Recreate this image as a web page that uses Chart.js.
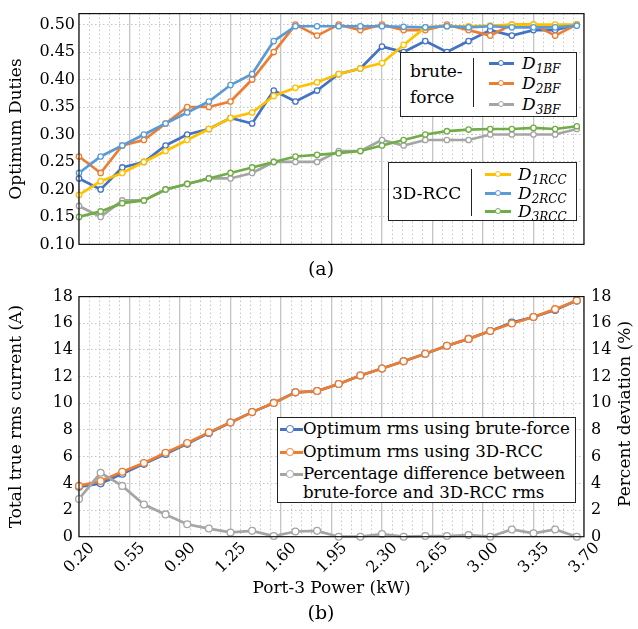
<!DOCTYPE html>
<html>
<head>
<meta charset="utf-8">
<script src="https://cdn.jsdelivr.net/npm/chart.js@4.4.0/dist/chart.umd.min.js"></script>
<style>
body{margin:0;background:#fff;width:638px;height:629px;position:relative;overflow:hidden;font-family:"DejaVu Serif",serif;color:#000;}
canvas{position:absolute;left:0;}
#c1{top:0;}
#c2{top:280px;}
.cap{position:absolute;left:0;width:638px;text-align:center;font-size:19px;line-height:24px;padding-left:4px;box-sizing:border-box;}
.lg{position:absolute;border:1px solid #222;background:#fff;box-sizing:border-box;}
.lg span{position:absolute;white-space:nowrap;line-height:20px;}
.vl{position:absolute;width:1px;background:#222;}
.smp{position:absolute;height:3px;margin-top:-1.5px;}
.dot{position:absolute;top:50%;border-radius:50%;background:#fff;box-sizing:border-box;}
.m{font-style:italic;font-size:17px;}
.m sub{font-size:12px;font-style:italic;vertical-align:-4px;line-height:0;}
#rt{position:absolute;left:624px;top:414px;transform:translate(-50%,-50%) rotate(-90deg);white-space:nowrap;font-size:17px;}
</style>
</head>
<body>
<canvas id="c1" width="638" height="258"></canvas>
<canvas id="c2" width="638" height="322"></canvas>
<div class="cap" style="top:256px">(a)</div>
<div class="cap" style="top:600px">(b)</div>
<div id="rt">Percent deviation (%)</div>
<div id="legends"></div>
<script>
// port-3 power, kW
const power = [0.20, 0.35, 0.50, 0.65, 0.80, 0.95, 1.10, 1.25, 1.40, 1.55, 1.70, 1.85,
               2.00, 2.15, 2.30, 2.45, 2.60, 2.75, 2.90, 3.05, 3.20, 3.35, 3.50, 3.65];

// (a) optimum duties
const d1bf  = [0.22, 0.20, 0.24, 0.25, 0.28, 0.30, 0.31, 0.33, 0.32, 0.38, 0.36, 0.38,
               0.41, 0.42, 0.46, 0.45, 0.47, 0.45, 0.47, 0.49, 0.48, 0.49, 0.49, 0.50];
const d2bf  = [0.26, 0.23, 0.28, 0.29, 0.32, 0.35, 0.35, 0.36, 0.40, 0.45, 0.50, 0.48,
               0.50, 0.49, 0.50, 0.49, 0.49, 0.50, 0.49, 0.48, 0.50, 0.50, 0.48, 0.50];
const d3bf  = [0.17, 0.15, 0.18, 0.18, 0.20, 0.21, 0.22, 0.22, 0.23, 0.25, 0.25, 0.25,
               0.27, 0.27, 0.29, 0.28, 0.29, 0.29, 0.29, 0.30, 0.30, 0.30, 0.30, 0.31];
const d1rcc = [0.19, 0.215, 0.23, 0.25, 0.27, 0.29, 0.31, 0.33, 0.34, 0.37, 0.385, 0.395,
               0.41, 0.42, 0.43, 0.463, 0.495, 0.497, 0.497, 0.498, 0.50, 0.50, 0.50, 0.50];
const d2rcc = [0.23, 0.26, 0.28, 0.30, 0.32, 0.34, 0.36, 0.39, 0.41, 0.47, 0.497, 0.497,
               0.497, 0.497, 0.497, 0.496, 0.495, 0.497, 0.495, 0.497, 0.495, 0.495, 0.495, 0.498];
const d3rcc = [0.15, 0.16, 0.175, 0.18, 0.20, 0.21, 0.22, 0.23, 0.24, 0.25, 0.26, 0.263,
               0.266, 0.27, 0.28, 0.29, 0.30, 0.306, 0.309, 0.31, 0.31, 0.312, 0.31, 0.315];

// (b) rms current (A) and percentage difference (%)
const rmsBF   = [3.74, 4.00, 4.72, 5.46, 6.20, 6.96, 7.77, 8.56, 9.34, 10.03, 10.82, 10.92,
                 11.45, 12.08, 12.61, 13.15, 13.72, 14.31, 14.83, 15.42, 16.05, 16.47, 17.00, 17.70];
const rmsRCC  = [3.81, 4.18, 4.87, 5.53, 6.29, 7.03, 7.82, 8.56, 9.34, 10.03, 10.82, 10.92,
                 11.45, 12.08, 12.61, 13.15, 13.72, 14.31, 14.83, 15.42, 15.98, 16.47, 17.06, 17.70];
const pctDiff = [2.83, 4.79, 3.81, 2.41, 1.67, 0.93, 0.61, 0.32, 0.44, 0.05, 0.39, 0.44,
                 0.00, 0.00, 0.20, 0.00, 0.05, 0.05, 0.12, 0.00, 0.54, 0.25, 0.54, 0.00];

const dutyTicks = [0.10, 0.15, 0.20, 0.25, 0.30, 0.35, 0.40, 0.45, 0.50];
const currentTicks = [0, 2, 4, 6, 8, 10, 12, 14, 16, 18];

const colors = {
    blue: '#4472C4', orange: '#ED7D31', grey: '#A5A5A5',
    yellow: '#FFC000', lightblue: '#5B9BD5', green: '#70AD47'
};
const FONT = '"DejaVu Serif", serif';

function pts(ys) {
    return power.map(function (p, i) { return {x: p, y: ys[i]}; });
}
function isMajor(v) {
    let k = (v - 0.2) / 0.35;
    return Math.abs(k - Math.round(k)) < 1e-6;
}

const frame = {
    id: 'frame',
    afterDatasetsDraw: function (chart) {
        let a = chart.chartArea, c = chart.ctx;
        c.save();
        c.strokeStyle = '#111';
        c.lineWidth = 1.2;
        c.strokeRect(a.left, a.top, a.right - a.left, a.bottom - a.top);
        c.restore();
    }
};

function line(label, ys, color, order, r, axis) {
    return {
        label: label, data: pts(ys), borderColor: color, backgroundColor: '#fff',
        borderWidth: 2.7, pointRadius: r, pointBorderWidth: 1.3, pointBackgroundColor: '#fff',
        pointBorderColor: color, order: order, clip: false, yAxisID: axis || 'y', tension: 0
    };
}

function xScales(showLabels) {
    return {
        x: {
            type: 'linear', min: 0.2, max: 3.7,
            ticks: {
                stepSize: 0.35, display: showLabels, color: '#000',
                font: {family: FONT, size: 16}, minRotation: 45, maxRotation: 45,
                labelOffset: 13, padding: 2,
                callback: function (v) { return v.toFixed(2); }
            },
            grid: {color: '#c4c4c4', lineWidth: 1.3, drawTicks: false},
            border: {display: false},
            title: {display: showLabels, text: 'Port-3 Power (kW)', color: '#000',
                    font: {family: FONT, size: 17}, padding: {top: 0, bottom: 3}},
            afterFit: function (s) { s.height = showLabels ? 65.3 : 0; }
        },
        xm: {
            type: 'linear', min: 0.2, max: 3.7, position: 'bottom',
            ticks: {stepSize: 0.07, display: false},
            grid: {
                drawTicks: false, lineWidth: 0.9,
                color: function (ctx) { return ctx.tick && isMajor(ctx.tick.value) ? 'rgba(0,0,0,0)' : '#bdbdbd'; }
            },
            border: {display: false, dash: [1.5, 2.5]},
            afterFit: function (s) { s.height = 0; }
        }
    };
}

// (a)
let sa = xScales(false);
sa.y = {
    min: 0.1, max: 0.52,
    ticks: {
        stepSize: 0.05, includeBounds: false, color: '#000', padding: 4,
        font: {family: FONT, size: 16},
        callback: function (v) { return v.toFixed(2); }
    },
    afterBuildTicks: function (s) { s.ticks = dutyTicks.map(function (v) { return {value: v}; }); },
    grid: {color: '#bdbdbd', lineWidth: 0.9, drawTicks: false},
    border: {display: false, dash: [1.5, 2.5]},
    title: {display: true, text: 'Optimum Duties', color: '#000',
            font: {family: FONT, size: 17}, padding: {top: 6, bottom: 0}},
    afterFit: function (s) { s.width = 79; }
};

new Chart(document.getElementById('c1'), {
    type: 'line',
    data: {
        datasets: [
            line('D1BF', d1bf, colors.blue, 6, 2.7),
            line('D2BF', d2bf, colors.orange, 5, 2.7),
            line('D3BF', d3bf, colors.grey, 4, 2.7),
            line('D1RCC', d1rcc, colors.yellow, 3, 2.7),
            line('D2RCC', d2rcc, colors.lightblue, 2, 2.7),
            line('D3RCC', d3rcc, colors.green, 1, 2.7)
        ]
    },
    options: {
        responsive: false, animation: false,
        layout: {padding: {top: 3.7, right: 54, bottom: 9.7, left: 0}},
        plugins: {legend: {display: false}, tooltip: {enabled: false}},
        scales: sa
    },
    plugins: [frame]
});

// (b)
let sb = xScales(true);
sb.y = {
    min: 0, max: 18,
    ticks: {stepSize: 2, color: '#000', padding: 6, font: {family: FONT, size: 16}},
    afterBuildTicks: function (s) { s.ticks = currentTicks.map(function (v) { return {value: v}; }); },
    grid: {color: '#bdbdbd', lineWidth: 0.9, drawTicks: false},
    border: {display: false, dash: [1.5, 2.5]},
    title: {display: true, text: 'Total true rms current (A)', color: '#000',
            font: {family: FONT, size: 17}, padding: {top: 6, bottom: 0}},
    afterFit: function (s) { s.width = 79; }
};
sb.y2 = {
    position: 'right', min: 0, max: 18,
    ticks: {stepSize: 2, color: '#000', padding: 7, font: {family: FONT, size: 16}},
    afterBuildTicks: function (s) { s.ticks = currentTicks.map(function (v) { return {value: v}; }); },
    grid: {display: false, drawTicks: false},
    border: {display: false},
    afterFit: function (s) { s.width = 54; }
};

new Chart(document.getElementById('c2'), {
    type: 'line',
    data: {
        datasets: [
            line('Optimum rms using brute-force', rmsBF, colors.blue, 3, 3.4),
            line('Optimum rms using 3D-RCC', rmsRCC, colors.orange, 2, 3.4),
            line('Percentage difference between brute-force and 3D-RCC rms', pctDiff, colors.grey, 1, 3.4, 'y2')
        ]
    },
    options: {
        responsive: false, animation: false,
        layout: {padding: {top: 12.7, right: 0, bottom: 0, left: 0}},
        plugins: {legend: {display: false}, tooltip: {enabled: false}},
        scales: sb
    },
    plugins: [frame]
});

// legends drawn as html boxes
function sample(color, left, top, width, dotX, r) {
    let d = r * 2 + 1.5;
    return '<div class="smp" style="left:' + left + 'px;top:' + top + 'px;width:' + width +
        'px;background:' + color + '"><div class="dot" style="left:' + (dotX - d / 2) +
        'px;width:' + d + 'px;height:' + d + 'px;margin-top:' + (-d / 2) +
        'px;border:1.3px solid ' + color + '"></div></div>';
}
function mathLabel(sub, left, top) {
    return '<span class="m" style="left:' + left + 'px;top:' + (top - 10) + 'px">D<sub>' + sub + '</sub></span>';
}

const bfNames = ['1BF', '2BF', '3BF'];
const bfColors = [colors.blue, colors.orange, colors.grey];
const rccNames = ['1RCC', '2RCC', '3RCC'];
const rccColors = [colors.yellow, colors.lightblue, colors.green];

let html = '';
let rows = [10, 30, 51];
html += '<div class="lg" style="left:400px;top:52px;width:177px;height:65px">';
html += '<span style="left:9px;top:8px;font-size:17px">brute-</span>';
html += '<span style="left:9px;top:34px;font-size:17px">force</span>';
html += '<div class="vl" style="left:72px;top:5px;height:49px"></div>';
for (let i = 0; i < 3; i++) {
    html += sample(bfColors[i], 88, rows[i], 25, 12, 2.5);
    html += mathLabel(bfNames[i], 121, rows[i]);
}
html += '</div>';

rows = [11, 30, 48];
html += '<div class="lg" style="left:388px;top:162px;width:189px;height:59px">';
html += '<span style="left:3px;top:20px;font-size:17px">3D-RCC</span>';
html += '<div class="vl" style="left:82px;top:6px;height:47px"></div>';
for (let i = 0; i < 3; i++) {
    html += sample(rccColors[i], 96, rows[i], 26, 13, 2.5);
    html += mathLabel(rccNames[i], 129, rows[i]);
}
html += '</div>';

const rmsNames = ['Optimum rms using brute-force', 'Optimum rms using 3D-RCC',
                  'Percentage difference between', 'brute-force and 3D-RCC rms'];
const rmsColors = [colors.blue, colors.orange, colors.grey];
rows = [11, 34, 56, 75];
html += '<div class="lg" style="left:277px;top:417px;width:299px;height:86px">';
for (let i = 0; i < 4; i++) {
    if (i < 3) html += sample(rmsColors[i], 2, rows[i], 23, 10, 3);
    html += '<span style="left:25px;top:' + (rows[i] - 10) + 'px;font-size:16.6px">' + rmsNames[i] + '</span>';
}
html += '</div>';
document.getElementById('legends').innerHTML = html;
</script>
</body>
</html>
